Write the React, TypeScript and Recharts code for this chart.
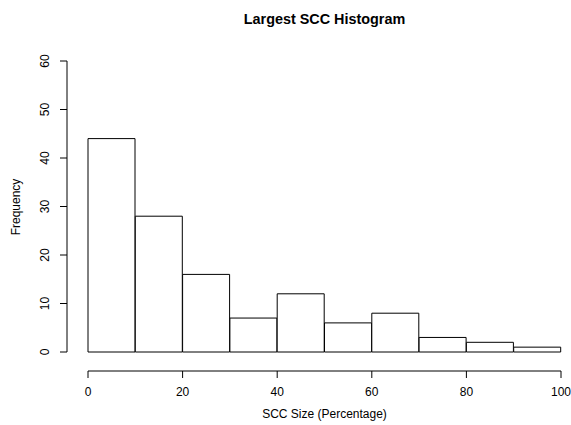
import { BarChart, Bar, XAxis, YAxis } from 'recharts';

const binStarts = [0, 10, 20, 30, 40, 50, 60, 70, 80, 90];
const frequencies = [44, 28, 16, 7, 12, 6, 8, 3, 2, 1];
const xTicks = [0, 20, 40, 60, 80, 100];
const yTicks = [0, 10, 20, 30, 40, 50, 60];

const FONT = '"Liberation Sans", Arial, Helvetica, sans-serif';

const data = binStarts.map((start, i) => ({
    bin: `${start}-${start + 10}`,
    start,
    count: frequencies[i],
}));

// x tick labels sit below the detached axis line
const XTick = (props: any) => {
    const { x, y, payload } = props;
    return (
        <text x={x} y={y + 37} textAnchor="middle" fontSize={12} fill="#000" fontFamily={FONT}>
            {payload.value}
        </text>
    );
};

// y tick labels are rotated like R's default las=0
const YTick = (props: any) => {
    const { x, y, payload } = props;
    const bx = x - 32;
    return (
        <text
            x={bx}
            y={y}
            transform={`rotate(-90 ${bx} ${y})`}
            textAnchor="middle"
            fontSize={12}
            fill="#000"
            fontFamily={FONT}
        >
            {payload.value}
        </text>
    );
};

export default function App() {
    return (
        <div style={{ position: 'absolute', left: 0, top: 0, width: 571, height: 425, background: '#fff', fontFamily: FONT }}>
            <BarChart
                width={571}
                height={425}
                data={data}
                margin={{ top: 61, right: 10, bottom: 0, left: 0 }}
                barCategoryGap={0}
                barGap={0}
            >
                {/* category axis only places the bins, hidden on top */}
                <XAxis xAxisId="cat" dataKey="bin" orientation="top" height={0} hide />
                <XAxis
                    xAxisId="num"
                    dataKey="start"
                    type="number"
                    domain={[0, 100]}
                    ticks={xTicks}
                    allowDataOverflow
                    height={73}
                    tickSize={7}
                    tickMargin={0}
                    interval={0}
                    axisLine={{ stroke: '#000', transform: 'translate(0,19)' }}
                    tickLine={{ stroke: '#000', transform: 'translate(0,19)' }}
                    tick={<XTick />}
                />
                <YAxis
                    domain={[0, 60]}
                    ticks={yTicks}
                    width={88}
                    tickSize={7}
                    tickMargin={0}
                    interval={0}
                    axisLine={{ stroke: '#000', transform: 'translate(-21,0)' }}
                    tickLine={{ stroke: '#000', transform: 'translate(-21,0)' }}
                    tick={<YTick />}
                />
                <Bar
                    xAxisId="cat"
                    dataKey="count"
                    fill="#fff"
                    stroke="#000"
                    strokeWidth={1}
                    isAnimationActive={false}
                />
            </BarChart>
            <div style={{ position: 'absolute', left: 0, width: 649, top: 11, textAlign: 'center', fontWeight: 'bold', fontSize: 14.4 }}>
                Largest SCC Histogram
            </div>
            <div style={{ position: 'absolute', left: 0, width: 649, top: 407, textAlign: 'center', fontSize: 12 }}>
                SCC Size (Percentage)
            </div>
            <div
                style={{
                    position: 'absolute',
                    left: 16,
                    top: 207,
                    fontSize: 12,
                    whiteSpace: 'nowrap',
                    transform: 'translate(-50%, -50%) rotate(-90deg)',
                }}
            >
                Frequency
            </div>
        </div>
    );
}
